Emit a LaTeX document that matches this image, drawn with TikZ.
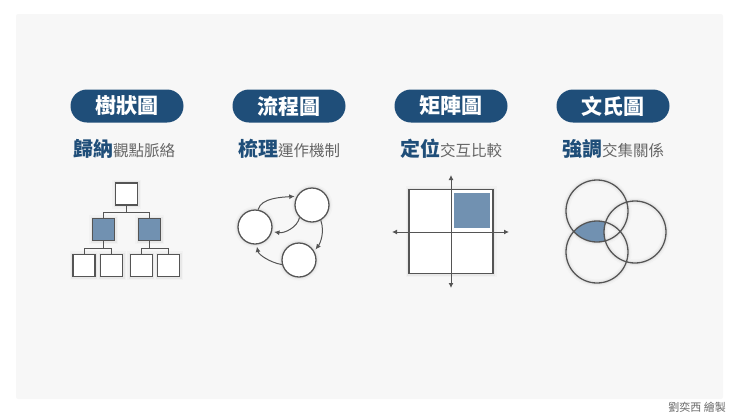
\documentclass[tikz,border=0pt]{standalone}
\usepackage{fontspec}
\setmainfont{Noto Sans CJK TC}
\usepackage{tikz}
\usetikzlibrary{arrows.meta, positioning}

\definecolor{pillblue}{HTML}{1F4E79}
\definecolor{quadblue}{HTML}{7191B1}
\definecolor{edgegray}{HTML}{555555}
\definecolor{panelgray}{HTML}{F7F7F7}
\definecolor{notegray}{HTML}{666666}

\newcommand\subline[2]{{\color{pillblue}\bfseries\fontsize{20}{20}\selectfont #1}{\color{notegray}\fontsize{15.5}{15.5}\selectfont #2}}

\begin{document}
\begin{tikzpicture}[x=1pt, y=-1pt,
	pill/.style={fill=pillblue, text=white, rounded corners=16.5pt, minimum width=113pt, minimum height=33pt, inner sep=0pt, font=\bfseries\fontsize{21}{21}\selectfont},
	subtitle/.style={anchor=base, inner sep=0pt},
	glow/.style={preaction={draw=black!5, line width=7pt}, preaction={draw=black!9, line width=4pt}},
	treebox/.style={draw=edgegray, line width=1.3pt, fill=white, minimum size=22pt, inner sep=0pt, glow},
	flowcirc/.style={circle, draw=edgegray, line width=1.3pt, fill=white, minimum size=34pt, inner sep=0pt, glow},
	link/.style={draw=edgegray, line width=1pt},
	flowarrow/.style={draw=edgegray, line width=1pt, shorten >=2pt, -{Latex[length=5.5pt, width=5pt]}},
	axis/.style={draw=edgegray, line width=1pt, {Latex[length=5pt, width=5pt]}-{Latex[length=5pt, width=5pt]}}
]

\useasboundingbox (0,0) rectangle (740,416);
\fill [panelgray, rounded corners=2pt] (16,14) rectangle (723,399);

% titles
\node [pill] (p1) at (127,106) {樹狀圖};
\node [pill] (p2) at (289,106) {流程圖};
\node [pill] (p3) at (451,106) {矩陣圖};
\node [pill] (p4) at (613,106) {文氏圖};

\node [subtitle] (s1) at (124,156) {\subline{歸納}{觀點脈絡}};
\node [subtitle] (s2) at (289,156) {\subline{梳理}{運作機制}};
\node [subtitle] (s3) at (451,156) {\subline{定位}{交互比較}};
\node [subtitle] (s4) at (613,156) {\subline{強調}{交集關係}};

% tree
\node [treebox] (t0) at (126.5,194) {};
\node [treebox, fill=quadblue] (t1) at (103.5,229.5) {};
\node [treebox, fill=quadblue] (t2) at (149.5,229.5) {};
\node [treebox] (b1) at (84,265.5) {};
\node [treebox] (b2) at (111.5,265.5) {};
\node [treebox] (b3) at (141.5,265.5) {};
\node [treebox] (b4) at (168.5,265.5) {};

\path [link] (t0.south) -- ++(0,7) -| (t1.north);
\path [link] (t0.south) -- ++(0,7) -| (t2.north);
\path [link] (t1.south) -- ++(0,7) -| (b1.north);
\path [link] (t1.south) -- ++(0,7) -| (b2.north);
\path [link] (t2.south) -- ++(0,7) -| (b3.north);
\path [link] (t2.south) -- ++(0,7) -| (b4.north);

% flow
\node [flowcirc] (c1) at (255,227) {};
\node [flowcirc] (c2) at (312,205) {};
\node [flowcirc] (c3) at (299,260) {};

\path [flowarrow] (c1.80) .. controls +(3,-12) and +(-14,1) .. (c2.150);
\path [flowarrow] (c2.225) .. controls +(-2,10) and +(12,2) .. (c1.-15);
\path [flowarrow] (c2.-60) .. controls +(4,12) and +(6,-8) .. (c3.30);
\path [flowarrow] (c3.195) .. controls +(-12,-2) and +(2,10) .. (c1.-85);

% matrix
\node [draw=edgegray, line width=1.3pt, fill=white, minimum size=84pt, glow] (mbox) at (451,231.5) {};
\node [draw=white, line width=1.5pt, fill=quadblue, minimum width=37pt, minimum height=36pt] (mquad) at (472,210.5) {};
\coordinate (mtop) at (451,175);
\coordinate (mbot) at (451,288);
\coordinate (mleft) at (392,232);
\coordinate (mright) at (509,232);
\path [axis] (mtop) -- (mbot);
\path [axis] (mleft) -- (mright);

% venn
\draw [black!5, line width=7pt] (597,211) circle (31) (635,232) circle (31) (597,252) circle (31);
\draw [black!9, line width=4pt] (597,211) circle (31) (635,232) circle (31) (597,252) circle (31);
\begin{scope}
	\clip (597,211) circle (31);
	\clip (597,252) circle (31);
	\fill [quadblue, even odd rule] (560,215) rectangle (630,250) (635,232) circle (31);
\end{scope}
\draw [edgegray, line width=1.3pt] (597,211) circle (31) (635,232) circle (31) (597,252) circle (31);

\node [anchor=east, text=notegray, font=\fontsize{11}{11}\selectfont, inner sep=0pt] (credit) at (726,407) {劉奕西 繪製};

\end{tikzpicture}
\end{document}
